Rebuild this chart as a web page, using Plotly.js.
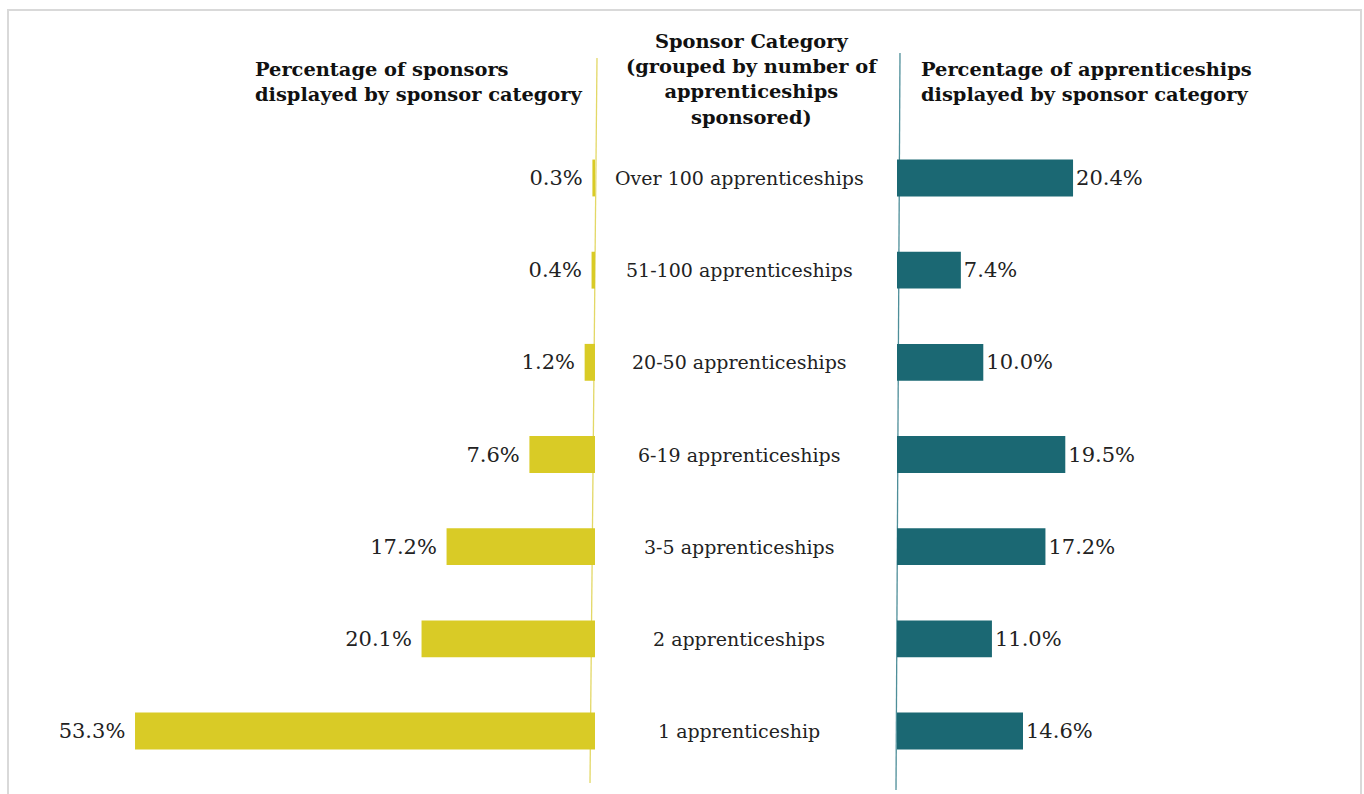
<!DOCTYPE html>
<html>
<head>
<meta charset="utf-8">
<script src="https://cdn.plot.ly/plotly-3.0.1.min.js"></script>
<style>
  html, body { margin: 0; padding: 0; background: #fff; }
  #chart { width: 1364px; height: 794px; }
</style>
</head>
<body>
<div id="chart"></div>
<script>
// categories, bottom to top
var categories = ['1 apprenticeship', '2 apprenticeships', '3-5 apprenticeships',
  '6-19 apprenticeships', '20-50 apprenticeships', '51-100 apprenticeships',
  'Over 100 apprenticeships'];
var sponsorPct = [53.3, 20.1, 17.2, 7.6, 1.2, 0.4, 0.3];
var apprenticePct = [14.6, 11.0, 17.2, 19.5, 10.0, 7.4, 20.4];

var W = 1364, H = 794;
function px(x) { return x / W; }
function py(y) { return 1 - y / H; }

var serif = '"DejaVu Serif", "Liberation Serif", serif';
var pxPerUnit = 8.63;

var left = {
  type: 'bar', orientation: 'h',
  x: sponsorPct, y: categories,
  xaxis: 'x', yaxis: 'y',
  width: 0.4,
  marker: { color: '#D9CB26', line: { width: 0 } },
  // trailing nbsp keeps the label a bit off the bar end
  text: sponsorPct.map(function (v) { return v.toFixed(1) + '%\u00a0'; }),
  textposition: 'outside', cliponaxis: false, constraintext: 'none',
  textfont: { family: serif, size: 21, color: '#222' },
  hoverinfo: 'x+y'
};

var right = {
  type: 'bar', orientation: 'h',
  x: apprenticePct, y: categories,
  xaxis: 'x2', yaxis: 'y',
  width: 0.4,
  marker: { color: '#1B6873', line: { width: 0 } },
  text: apprenticePct.map(function (v) { return v.toFixed(1) + '%'; }),
  textposition: 'outside', cliponaxis: false, constraintext: 'none',
  textfont: { family: serif, size: 21, color: '#222' },
  hoverinfo: 'x+y'
};

var leftStart = 8, leftEnd = 595, rightStart = 897, rightEnd = 1360;

var annotations = categories.map(function (c) {
  return {
    xref: 'paper', yref: 'y', x: px(739), y: c,
    text: c, showarrow: false, xanchor: 'center', yanchor: 'middle',
    font: { family: serif, size: 19, color: '#222' }
  };
});

var titleFont = { family: serif, size: 19.4, color: '#111' };
annotations.push({
  xref: 'paper', yref: 'paper', x: px(253), y: py(56),
  text: '<b>Percentage of sponsors<br>displayed by sponsor category</b>',
  showarrow: false, xanchor: 'left', yanchor: 'top', align: 'left',
  font: titleFont
});
annotations.push({
  xref: 'paper', yref: 'paper', x: px(752), y: py(28),
  text: '<b>Sponsor Category<br>(grouped by number of<br>apprenticeships<br>sponsored)</b>',
  showarrow: false, xanchor: 'center', yanchor: 'top', align: 'center',
  font: titleFont
});
annotations.push({
  xref: 'paper', yref: 'paper', x: px(919), y: py(56),
  text: '<b>Percentage of apprenticeships<br>displayed by sponsor category</b>',
  showarrow: false, xanchor: 'left', yanchor: 'top', align: 'left',
  font: titleFont
});

var layout = {
  width: W, height: H,
  margin: { l: 0, r: 0, t: 0, b: 0 },
  paper_bgcolor: '#fff', plot_bgcolor: 'rgba(0,0,0,0)',
  showlegend: false,
  xaxis: {
    domain: [px(leftStart), px(leftEnd)],
    range: [(leftEnd - leftStart) / pxPerUnit, 0],
    visible: false, fixedrange: true
  },
  xaxis2: {
    domain: [px(rightStart), px(rightEnd)],
    range: [0, (rightEnd - rightStart) / pxPerUnit],
    visible: false, fixedrange: true
  },
  yaxis: {
    type: 'category', categoryorder: 'array', categoryarray: categories,
    domain: [0, 1],
    range: [-63 / 92.17, 6 + 178 / 92.17],
    visible: false, fixedrange: true
  },
  annotations: annotations,
  shapes: [
    { type: 'rect', xref: 'paper', yref: 'paper', x0: px(8), x1: px(1361), y0: py(800), y1: py(10),
      line: { color: '#D9D9D9', width: 2 }, layer: 'below' },
    { type: 'line', xref: 'paper', yref: 'paper', x0: px(597), y0: py(58), x1: px(590), y1: py(783),
      line: { color: '#E3D866', width: 1.3 }, layer: 'below' },
    { type: 'line', xref: 'paper', yref: 'paper', x0: px(900), y0: py(53), x1: px(896), y1: py(790),
      line: { color: '#4E8E99', width: 1.3 }, layer: 'below' }
  ]
};

Plotly.newPlot('chart', [left, right], layout, { displayModeBar: false, staticPlot: true });
</script>
</body>
</html>
